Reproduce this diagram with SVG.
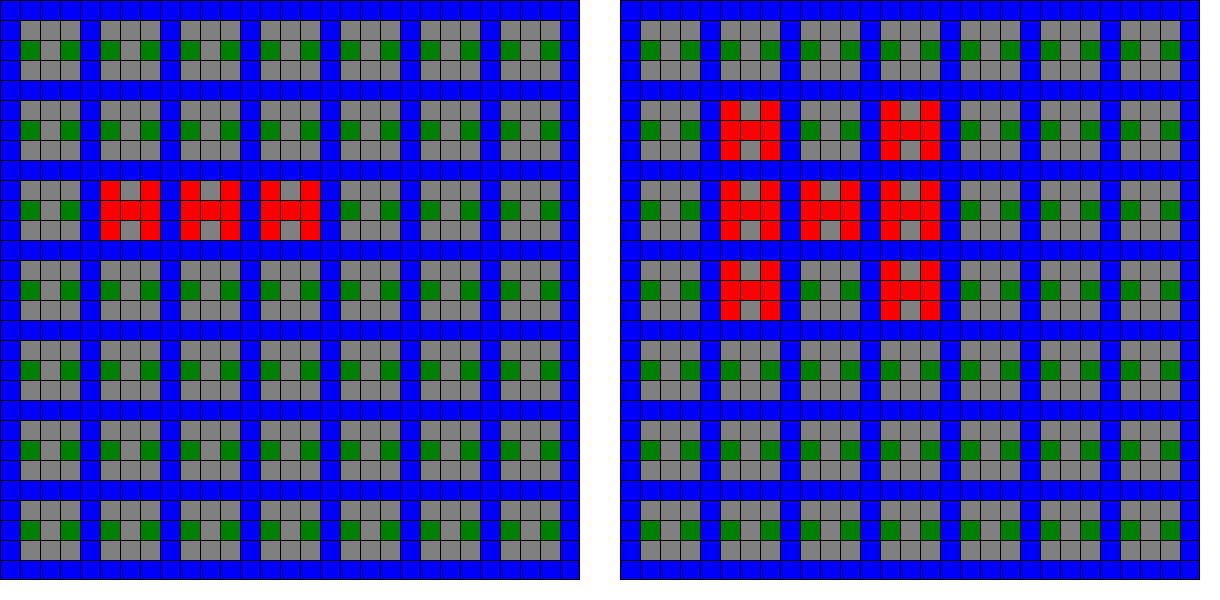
<svg xmlns="http://www.w3.org/2000/svg" xmlns:xlink="http://www.w3.org/1999/xlink" width="1220" height="600" viewBox="0 0 1220 600">
<style>
.bg{fill:#0000ff}
.gray{fill:#808080}
.green{fill:#008000}
.red{fill:#ff0000}
.lines{fill:none;stroke:#000;stroke-width:1;shape-rendering:crispEdges}
</style>
<defs>
<g id="b"><rect class="gray" width="60" height="60"/><rect class="green" y="20" width="20" height="20"/><rect class="green" x="40" y="20" width="20" height="20"/></g>
<g id="r"><rect class="red" width="60" height="60"/><rect class="gray" x="20" width="20" height="20"/><rect class="gray" x="20" y="40" width="20" height="20"/></g>
<g id="row"><use href="#b" x="20"/><use href="#b" x="100"/><use href="#b" x="180"/><use href="#b" x="260"/><use href="#b" x="340"/><use href="#b" x="420"/><use href="#b" x="500"/></g>
<g id="base"><rect class="bg" width="580" height="580"/><use href="#row" y="20"/><use href="#row" y="100"/><use href="#row" y="180"/><use href="#row" y="260"/><use href="#row" y="340"/><use href="#row" y="420"/><use href="#row" y="500"/></g>
<path id="lines" class="lines" d="M0.5 0V580M20.5 0V580M40.5 0V580M60.5 0V580M80.5 0V580M100.5 0V580M120.5 0V580M140.5 0V580M160.5 0V580M180.5 0V580M200.5 0V580M220.5 0V580M240.5 0V580M260.5 0V580M280.5 0V580M300.5 0V580M320.5 0V580M340.5 0V580M360.5 0V580M380.5 0V580M400.5 0V580M420.5 0V580M440.5 0V580M460.5 0V580M480.5 0V580M500.5 0V580M520.5 0V580M540.5 0V580M560.5 0V580M579.5 0V580M0 0.5H580M0 20.5H580M0 40.5H580M0 60.5H580M0 80.5H580M0 100.5H580M0 120.5H580M0 140.5H580M0 160.5H580M0 180.5H580M0 200.5H580M0 220.5H580M0 240.5H580M0 260.5H580M0 280.5H580M0 300.5H580M0 320.5H580M0 340.5H580M0 360.5H580M0 380.5H580M0 400.5H580M0 420.5H580M0 440.5H580M0 460.5H580M0 480.5H580M0 500.5H580M0 520.5H580M0 540.5H580M0 560.5H580M0 579.5H580"/>
</defs>
<rect width="1220" height="600" fill="#fff"/>
<g id="input">
<use href="#base"/>
<use href="#r" x="100" y="180"/><use href="#r" x="180" y="180"/><use href="#r" x="260" y="180"/>
<use href="#lines"/>
</g>
<g id="output" transform="translate(620,0)">
<use href="#base"/>
<use href="#r" x="100" y="100"/><use href="#r" x="260" y="100"/>
<use href="#r" x="100" y="180"/><use href="#r" x="180" y="180"/><use href="#r" x="260" y="180"/>
<use href="#r" x="100" y="260"/><use href="#r" x="260" y="260"/>
<use href="#lines"/>
</g>
</svg>
